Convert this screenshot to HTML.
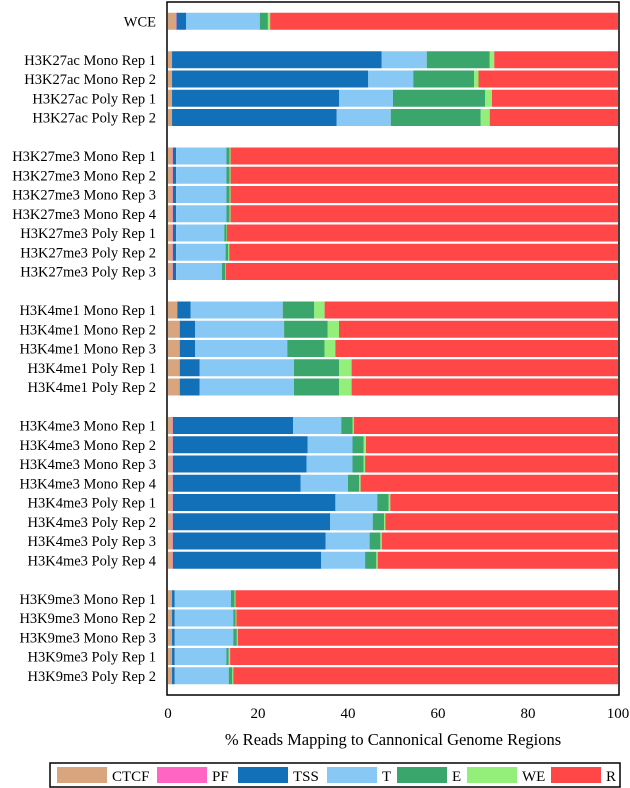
<!DOCTYPE html>
<html><head><meta charset="utf-8"><style>
html,body{margin:0;padding:0;background:#fff;}
svg{display:block;}
svg text{font-family:"Liberation Serif","Times New Roman",serif;}
</style></head><body>
<svg id="chart" width="630" height="788" font-family="Liberation Serif, serif"></svg>
<script>
const categories = ["WCE",null,
"H3K27ac Mono Rep 1","H3K27ac Mono Rep 2","H3K27ac Poly Rep 1","H3K27ac Poly Rep 2",null,
"H3K27me3 Mono Rep 1","H3K27me3 Mono Rep 2","H3K27me3 Mono Rep 3","H3K27me3 Mono Rep 4","H3K27me3 Poly Rep 1","H3K27me3 Poly Rep 2","H3K27me3 Poly Rep 3",null,
"H3K4me1 Mono Rep 1","H3K4me1 Mono Rep 2","H3K4me1 Mono Rep 3","H3K4me1 Poly Rep 1","H3K4me1 Poly Rep 2",null,
"H3K4me3 Mono Rep 1","H3K4me3 Mono Rep 2","H3K4me3 Mono Rep 3","H3K4me3 Mono Rep 4","H3K4me3 Poly Rep 1","H3K4me3 Poly Rep 2","H3K4me3 Poly Rep 3","H3K4me3 Poly Rep 4",null,
"H3K9me3 Mono Rep 1","H3K9me3 Mono Rep 2","H3K9me3 Mono Rep 3","H3K9me3 Poly Rep 1","H3K9me3 Poly Rep 2"];
const seriesNames = ["CTCF","PF","TSS","T","E","WE","R"];
const seriesColors = ["#d9a57e","#ff66c4","#1170b8","#88c8f5","#3aa66c","#94ee7a","#ff4747"];
// per-segment percentages (R computed as remainder)
const ctcf = [1.8,null,0.8,0.8,0.8,0.8,null,1,1,1,1,1,1,1,null,2,2.5,2.5,2.5,2.5,null,1,1,1,1,1,1,1,1,null,0.8,0.8,0.8,0.8,0.8];
const pf   = [0.1,null,0.1,0.1,0.1,0.1,null,0.1,0.1,0.1,0.1,0.1,0.1,0.1,null,0.1,0.1,0.1,0.1,0.1,null,0.1,0.1,0.1,0.1,0.1,0.1,0.1,0.1,null,0.1,0.1,0.1,0.1,0.1];
const tss  = [2.1,null,46.6,43.6,37.1,36.6,null,0.7,0.7,0.7,0.7,0.7,0.7,0.7,null,2.9,3.4,3.4,4.4,4.4,null,26.7,29.9,29.7,28.4,36.1,34.9,33.9,32.9,null,0.6,0.6,0.6,0.6,0.6];
const tval = [16.4,null,10,10,12,12,null,11.2,11.2,11.2,11.2,10.7,11,10.2,null,20.5,19.8,20.5,21,21,null,10.7,10,10.2,10.5,9.3,9.5,9.8,9.8,null,12.5,13,13,11.5,12];
const e    = [1.8,null,14,13.5,20.5,20,null,0.7,0.7,0.7,0.7,0.5,0.6,0.7,null,7,9.7,8.3,10,10,null,2.5,2.5,2.5,2.5,2.5,2.5,2.4,2.5,null,0.8,0.5,0.8,0.5,0.8];
const we   = [0.5,null,1,1,1.5,2,null,0.2,0.2,0.2,0.2,0.1,0.2,0.1,null,2.3,2.5,2.4,2.8,2.8,null,0.3,0.5,0.3,0.3,0.4,0.3,0.3,0.3,null,0.2,0.2,0.2,0.3,0.2];
const xTicks = [0,20,40,60,80,100];

const NS="http://www.w3.org/2000/svg";
const svg=document.getElementById('chart');
const X0=168,X1=618,TOP=2,PITCH=19.25,BH=17;
const xs=v=>X0+(X1-X0)*v/100;
const yc=i=>TOP+(i+1)*PITCH;
const FF='Liberation Serif, Times New Roman, serif';
function mk(tag,attrs,parent){const el=document.createElementNS(NS,tag);for(const k in attrs)el.setAttribute(k,attrs[k]);if(tag==='text')el.setAttribute('font-family',FF);(parent||svg).appendChild(el);return el;}

const barsG=mk('g',{});


const series=[ctcf,pf,tss,tval,e,we];
categories.forEach((c,i)=>{
  if(c===null)return;
  let acc=0;
  const vals=series.map(s=>s[i]);
  const sum=vals.reduce((a,b)=>a+b,0);
  vals.push(100-sum);
  vals.forEach((v,k)=>{
    const r=mk('rect',{x:xs(acc),y:yc(i)-BH/2,width:Math.max(0,xs(acc+v)-xs(acc)),height:BH,fill:seriesColors[k]},barsG);
    
    
    acc+=v;
  });
  const t=mk('text',{x:156,y:yc(i)+5,'text-anchor':'end','font-size':'14.5',fill:'#000'});
  t.textContent=c;
  
  
});
const frame=mk('rect',{x:167,y:TOP,width:452,height:693,fill:'none',stroke:'#000','stroke-width':1.5});


xTicks.forEach(v=>{
  const t=mk('text',{x:xs(v),y:718,'text-anchor':'middle','font-size':'15',fill:'#000'});
  t.textContent=v;
  
  
});
const xt=mk('text',{x:393,y:745,'text-anchor':'middle','font-size':'16.5',fill:'#000'});
xt.textContent='% Reads Mapping to Cannonical Genome Regions';



const lg=mk('g',{});


mk('rect',{x:50,y:763,width:570,height:24,fill:'#fff',stroke:'#000','stroke-width':1.5},lg);
const swX=[57,157,238,327,397,467,551];
seriesNames.forEach((n,k)=>{
  const s=mk('rect',{x:swX[k],y:767,width:50,height:16,fill:seriesColors[k]},lg);
  
  
  const t=mk('text',{x:swX[k]+55,y:781,'font-size':'15',fill:'#000'},lg);
  t.textContent=n;
  
  
});
</script>
</body></html>
